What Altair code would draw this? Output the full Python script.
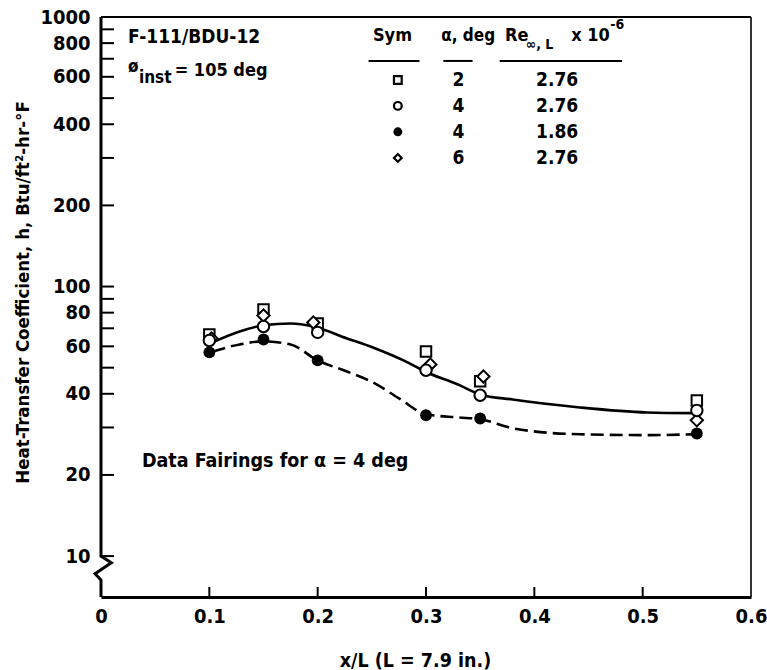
import altair as alt
import pandas as pd

FONT = "DejaVu Sans Condensed, DejaVu Sans, sans-serif"

# ---- data ----
x_stations = [0.10, 0.15, 0.20, 0.30, 0.35, 0.55]
h_square = [66.4, 82.2, 72.9, 57.4, 44.5, 37.8]      # alpha 2 deg, Re 2.76
h_open = [63.1, 71.1, 67.6, 48.9, 39.5, 34.7]        # alpha 4 deg, Re 2.76
h_filled = [57.0, 63.6, 53.2, 33.3, 32.4, 28.5]      # alpha 4 deg, Re 1.86
x_diamond = [0.102, 0.15, 0.196, 0.304, 0.353, 0.55]
h_diamond = [64.2, 78.1, 73.6, 51.4, 46.4, 31.9]     # alpha 6 deg, Re 2.76

solid_x = [0.103, 0.128, 0.150, 0.175, 0.196, 0.227, 0.251, 0.283, 0.299, 0.329, 0.350, 0.380, 0.442, 0.504, 0.547]
solid_h = [62.1, 68.1, 71.8, 72.9, 71.1, 64.2, 59.4, 52.3, 48.4, 43.4, 39.8, 38.1, 35.6, 34.1, 33.9]
dash_x = [0.103, 0.128, 0.150, 0.175, 0.200, 0.227, 0.251, 0.275, 0.300, 0.329, 0.350, 0.380, 0.442, 0.504, 0.547]
dash_h = [57.4, 61.0, 62.6, 61.0, 53.2, 48.4, 44.1, 38.5, 33.6, 32.7, 32.2, 29.8, 28.3, 28.1, 28.3]

x_tick_values = [0, 0.1, 0.2, 0.3, 0.4, 0.5, 0.6]
y_label_values = [10, 20, 40, 60, 80, 100, 200, 400, 600, 800, 1000]
y_tick_values = [10, 20, 30, 40, 50, 60, 70, 80, 90, 100,
                 200, 300, 400, 500, 600, 700, 800, 900, 1000]

# left axis line with break symbol near the origin
axis_x = [0, 0, 0.0095, -0.0055, 0, 0]
axis_h = [1000, 10, 9.45, 8.6, 8.15, 7.05]

# legend table
leg_sym = ["square", "circle", "filled", "diamond"]
leg_alpha = ["2", "4", "4", "6"]
leg_re = ["2.76", "2.76", "1.86", "2.76"]
leg_row_h = [584, 468, 375, 300]

X_DOMAIN = [0, 0.6]
Y_DOMAIN = [7.05, 1000]

xs = alt.Scale(domain=X_DOMAIN, nice=False, zero=False)
ys = alt.Scale(type="log", domain=Y_DOMAIN, nice=False)

X_AX = alt.Axis(values=x_tick_values, ticks=False, tickSize=0, grid=False,
                domain=True, domainColor="black", domainWidth=3,
                labelExpr="datum.value == 0 ? '0' : format(datum.value, '.1f')",
                labelFont=FONT, labelFontSize=20, labelFontWeight="bold",
                labelColor="black", labelPadding=9, labelFlush=False,
                title="x/L (L = 7.9 in.)", titleFont=FONT, titleFontSize=19.5,
                titleFontWeight="bold", titleColor="black",
                titleX=314, titleY=63, titleBaseline="middle")
Y_AX = alt.Axis(values=y_label_values, ticks=False, tickSize=0, grid=False,
                domain=False, format="d",
                labelFont=FONT, labelFontSize=20, labelFontWeight="bold",
                labelColor="black", labelPadding=11, labelFlush=False,
                title="Heat-Transfer Coefficient, h,  Btu/ft\u00b2-hr-\u00b0F",
                titleFont=FONT, titleFontSize=18.5, titleFontWeight="bold",
                titleColor="black", titleX=-79, titleY=275,
                titleBaseline="middle", titleAngle=270)


def X(field="x"):
    return alt.X(f"{field}:Q", scale=xs, axis=X_AX)


def Y(field="h"):
    return alt.Y(f"{field}:Q", scale=ys, axis=Y_AX)


pts = pd.DataFrame({
    "x": x_stations * 3 + x_diamond,
    "h": h_square + h_open + h_filled + h_diamond,
    "sym": ["square"] * 6 + ["circle"] * 6 + ["filled"] * 6 + ["diamond"] * 6,
})

solid = alt.Chart(pd.DataFrame({"x": solid_x, "h": solid_h})).mark_line(
    interpolate="monotone", color="black", strokeWidth=2.6).encode(x=X(), y=Y())
dashed = alt.Chart(pd.DataFrame({"x": dash_x, "h": dash_h})).mark_line(
    interpolate="monotone", color="black", strokeWidth=2.6,
    strokeDash=[13, 6]).encode(x=X(), y=Y())


def sym_layer(df, sym, size):
    d = df[df["sym"] == sym]
    if sym == "filled":
        return alt.Chart(d).mark_point(shape="circle", filled=True, color="black",
                                       size=size, opacity=1).encode(x=X(), y=Y())
    return alt.Chart(d).mark_point(shape=sym, filled=True, fill="white", stroke="black",
                                   strokeWidth=2, size=size, opacity=1).encode(x=X(), y=Y())


sq = sym_layer(pts, "square", 110)
dm = sym_layer(pts, "diamond", 150)
oc = sym_layer(pts, "circle", 130)
fc = sym_layer(pts, "filled", 140)

axis_line = alt.Chart(pd.DataFrame({"x": axis_x, "h": axis_h, "o": list(range(len(axis_x)))})).mark_line(
    color="black", strokeWidth=3, clip=False).encode(x=X(), y=Y(), order="o:Q")

yticks = alt.Chart(pd.DataFrame({"h": y_tick_values})).mark_rule(
    color="black", strokeWidth=2).encode(y=Y(), x=alt.value(0), x2=alt.value(13))
xticks = alt.Chart(pd.DataFrame({"x": x_tick_values[1:-1]})).mark_rule(
    color="black", strokeWidth=2).encode(x=X(), y=alt.value(580), y2=alt.value(570))

top_border = alt.Chart(pd.DataFrame({"x": [0]})).mark_rule(color="black", strokeWidth=2).encode(
    x=alt.value(0), x2=alt.value(650), y=alt.value(0))
right_border = alt.Chart(pd.DataFrame({"x": [0]})).mark_rule(color="black", strokeWidth=1.6).encode(
    x=alt.value(650), y=alt.value(0), y2=alt.value(580))


def text_layer(xv, hv, txt, size=19, align="left", weight="bold"):
    df = pd.DataFrame({"x": [xv], "h": [hv], "t": [txt]})
    return alt.Chart(df).mark_text(font=FONT, fontSize=size, fontWeight=weight, align=align,
                                   baseline="middle", color="black", clip=False).encode(
        x=X(), y=Y(), text="t:N")


texts = [
    text_layer(0.025, 843, "F-111/BDU-12", size=19),
    text_layer(0.025, 650, "\u00f8", size=17),
    text_layer(0.035, 596, "inst", size=17),
    text_layer(0.068, 630, "= 105 deg", size=18),
    text_layer(0.0378, 22.5, "Data Fairings for \u03b1  =  4 deg", size=19.5),
    text_layer(0.251, 851, "Sym", size=18),
    text_layer(0.314, 851, "\u03b1, deg", size=17),
    text_layer(0.373, 851, "Re", size=18),
    text_layer(0.392, 790, "\u221e, L", size=14),
    text_layer(0.434, 851, "x 10", size=18),
    text_layer(0.470, 935, "-6", size=14),
]

underline_df = pd.DataFrame({
    "x": [0.247, 0.316, 0.368],
    "x2": [0.294, 0.343, 0.481],
    "h": [687, 687, 687],
})
underlines = alt.Chart(underline_df).mark_rule(color="black", strokeWidth=2).encode(
    x=X(), x2="x2:Q", y=Y())

leg_df = pd.DataFrame({"sym": leg_sym, "alpha": leg_alpha, "re": leg_re, "h": leg_row_h})
leg_df["xs"] = 0.274
leg_df["xa"] = 0.330
leg_df["xr"] = 0.421

leg_open = alt.Chart(leg_df[leg_df["sym"] != "filled"]).mark_point(
    filled=True, fill="white", stroke="black", strokeWidth=2.2, size=60, opacity=1).encode(
    x=X("xs"), y=Y(), shape=alt.Shape("sym:N", scale=alt.Scale(
        domain=["square", "circle", "diamond"], range=["square", "circle", "diamond"]), legend=None))
leg_fill = alt.Chart(leg_df[leg_df["sym"] == "filled"]).mark_point(
    shape="circle", filled=True, color="black", size=80, opacity=1).encode(x=X("xs"), y=Y())
leg_alpha_t = alt.Chart(leg_df).mark_text(font=FONT, fontSize=19, fontWeight="bold",
                                          align="center", baseline="middle", color="black").encode(
    x=X("xa"), y=Y(), text="alpha:N")
leg_re_t = alt.Chart(leg_df).mark_text(font=FONT, fontSize=19, fontWeight="bold",
                                       align="center", baseline="middle", color="black").encode(
    x=X("xr"), y=Y(), text="re:N")

chart = alt.layer(
    top_border, right_border, axis_line, yticks, xticks,
    solid, dashed, sq, dm, oc, fc,
    *texts, underlines, leg_open, leg_fill, leg_alpha_t, leg_re_t,
).properties(
    width=650, height=580,
    padding={"left": 101, "top": 17, "right": 16, "bottom": 73},
    autosize=alt.AutoSizeParams(type="none"),
    background="white",
).configure_view(stroke=None)

chart.save("out.html", embed_options={"renderer": "svg", "actions": False})
